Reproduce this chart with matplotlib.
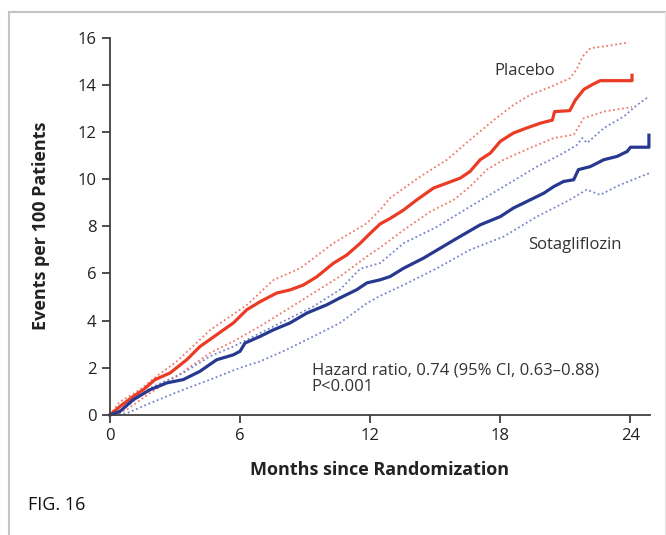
import matplotlib
matplotlib.use('Agg')
import matplotlib.pyplot as plt
from matplotlib.lines import Line2D

# Cumulative incidence curves (months, events per 100 patients)
placebo_m = [0, 0.46, 1.08, 1.54, 2.08, 2.77, 3.54, 4.15, 4.92, 5.69, 6.31, 6.92, 7.69, 8.3, 8.92,
             9.54, 10.3, 10.92, 11.54, 12.0, 12.46, 12.92, 13.54, 14.15, 14.92, 15.54, 16.15, 16.6,
             17.07, 17.54, 18.0, 18.6, 19.2, 19.85, 20.4, 20.5, 21.2, 21.46, 21.85, 22.23, 22.6, 24.07, 24.07]
placebo_v = [0, 0.36, 0.79, 1.07, 1.5, 1.78, 2.34, 2.9, 3.4, 3.9, 4.46, 4.8, 5.17, 5.3, 5.51,
             5.86, 6.43, 6.78, 7.28, 7.7, 8.1, 8.33, 8.69, 9.12, 9.62, 9.83, 10.04, 10.32,
             10.82, 11.1, 11.6, 11.95, 12.16, 12.37, 12.5, 12.86, 12.9, 13.35, 13.8, 14.0, 14.17, 14.17, 14.4]

sota_m = [0, 0.46, 1.08, 1.85, 2.62, 3.38, 4.15, 4.92, 5.69, 6.0, 6.23, 6.92, 7.54, 8.3, 9.08,
          10.0, 10.6, 11.38, 11.85, 12.46, 12.92, 13.54, 14.46, 15.23, 16.0, 17.07, 18.0, 18.6,
          19.38, 20.0, 20.46, 20.92, 21.38, 21.6, 22.15, 22.77, 23.38, 23.85, 24.0, 24.85, 24.85]
sota_v = [0, 0.15, 0.65, 1.07, 1.36, 1.5, 1.85, 2.34, 2.55, 2.7, 3.05, 3.33, 3.61, 3.9, 4.32,
          4.67, 4.96, 5.31, 5.6, 5.73, 5.87, 6.22, 6.65, 7.07, 7.49, 8.06, 8.41, 8.77,
          9.12, 9.4, 9.68, 9.9, 9.97, 10.4, 10.53, 10.82, 10.96, 11.17, 11.35, 11.35, 11.86]

placebo_hi_m = [0, 0.46, 1.38, 2.15, 3.08, 4.62, 6.31, 7.54, 8.77, 10.3, 11.85, 12.46, 12.92, 14.3,
                15.54, 16.6, 17.7, 18.6, 19.38, 20.3, 21.2, 21.5, 21.8, 22.15, 22.77, 23.92]
placebo_hi_v = [0, 0.56, 1.07, 1.64, 2.27, 3.6, 4.66, 5.72, 6.22, 7.28, 8.13, 8.7, 9.2, 10.1,
                10.82, 11.66, 12.5, 13.14, 13.57, 13.9, 14.27, 14.62, 15.2, 15.55, 15.62, 15.79]
placebo_lo_m = [0, 0.77, 1.85, 3.08, 4.62, 5.69, 6.92, 8.15, 9.38, 10.6, 11.85, 12.46, 13.54, 14.77,
                15.85, 16.6, 17.38, 18.15, 19.38, 20.46, 21.38, 21.85, 22.77, 24.07]
placebo_lo_v = [0, 0.22, 0.93, 1.64, 2.63, 3.12, 3.76, 4.46, 5.17, 5.87, 6.72, 7.1, 7.84, 8.62,
                9.12, 9.68, 10.4, 10.82, 11.32, 11.74, 11.88, 12.58, 12.86, 13.05]

sota_hi_m = [0, 0.77, 1.85, 3.38, 4.62, 5.69, 6.92, 8.15, 9.38, 10.6, 11.54, 12.46, 13.54, 15.08,
             16.6, 18.15, 19.69, 20.77, 21.54, 21.77, 22.0, 22.77, 23.69, 24.3, 24.85]
sota_hi_v = [0, 0.36, 1.14, 1.78, 2.49, 2.9, 3.47, 4.04, 4.6, 5.31, 6.2, 6.44, 7.28, 7.98,
             8.83, 9.68, 10.53, 11.03, 11.45, 11.74, 11.53, 12.16, 12.65, 13.14, 13.5]
sota_lo_m = [0, 0.77, 1.85, 3.38, 4.62, 6.0, 6.92, 8.15, 9.38, 10.6, 11.85, 12.46, 13.54, 15.08,
             16.6, 18.15, 19.69, 21.2, 21.98, 22.6, 23.5, 24.85]
sota_lo_v = [0, 0.07, 0.5, 1.07, 1.5, 2.0, 2.27, 2.77, 3.33, 3.9, 4.74, 5.05, 5.51, 6.22,
             7.0, 7.56, 8.41, 9.12, 9.55, 9.33, 9.75, 10.24]

x_ticks = [0, 6, 12, 18, 24]
y_ticks = [0, 2, 4, 6, 8, 10, 12, 14, 16]

RED = '#eb3b25'
BLUE = '#26388f'
RED_CI = '#f07868'
BLUE_CI = '#7484c8'
AXIS = '#404040'

plt.rcParams['font.family'] = ['Open Sans', 'DejaVu Sans']

fig = plt.figure(figsize=(6.66, 5.35), dpi=100)
ax = fig.add_axes([0.165, 0.2243, 0.811, 0.7056])

ax.plot(placebo_hi_m, placebo_hi_v, color=RED_CI, lw=1.3, ls=(0, (1, 1.5)), clip_on=False)
ax.plot(placebo_lo_m, placebo_lo_v, color=RED_CI, lw=1.3, ls=(0, (1, 1.5)), clip_on=False)
ax.plot(sota_hi_m, sota_hi_v, color=BLUE_CI, lw=1.3, ls=(0, (1, 1.5)), clip_on=False)
ax.plot(sota_lo_m, sota_lo_v, color=BLUE_CI, lw=1.3, ls=(0, (1, 1.5)), clip_on=False)
ax.plot(placebo_m, placebo_v, color=RED, lw=2.3, clip_on=False)
ax.plot(sota_m, sota_v, color=BLUE, lw=2.3, clip_on=False)

ax.set_xlim(0, 24.9)
ax.set_ylim(0, 16)
ax.set_xticks(x_ticks)
ax.set_yticks(y_ticks)
for side in ['top', 'right']:
    ax.spines[side].set_visible(False)
for side in ['left', 'bottom']:
    ax.spines[side].set_color(AXIS)
    ax.spines[side].set_linewidth(1.3)
ax.tick_params(axis='both', colors=AXIS, labelcolor='#222222', labelsize=12,
               length=6, width=1.3, direction='out')

ax.set_xlabel('Months since Randomization', fontsize=13, fontweight='bold', color='#222222', labelpad=12)
ax.set_ylabel('Events per 100 Patients', fontsize=13, fontweight='bold', color='#222222', labelpad=20)

ax.text(19.1, 14.6, 'Placebo', fontsize=12, color='#333333', ha='center', va='center')
ax.text(19.3, 7.2, 'Sotagliflozin', fontsize=12, color='#333333', ha='left', va='center')
ax.text(9.3, 1.55, 'Hazard ratio, 0.74 (95% CI, 0.63\u20130.88)\nP<0.001', fontsize=12,
        color='#333333', ha='left', va='center', linespacing=1.05)

fig.text(28 / 666, 1 - 505 / 535, 'FIG. 16', fontsize=13, color='#111111', ha='left', va='center')

# light frame around the panel
frame = dict(color='#c4c4c4', lw=1.5)
fig.add_artist(Line2D([9 / 666, 9 / 666], [0, 1 - 12 / 535], **frame))
fig.add_artist(Line2D([9 / 666, 665 / 666], [1 - 12 / 535, 1 - 12 / 535], **frame))
fig.add_artist(Line2D([665 / 666, 665 / 666], [0, 1 - 12 / 535], color='#e6e6e6', lw=1))

fig.savefig('out.png', dpi=100)
